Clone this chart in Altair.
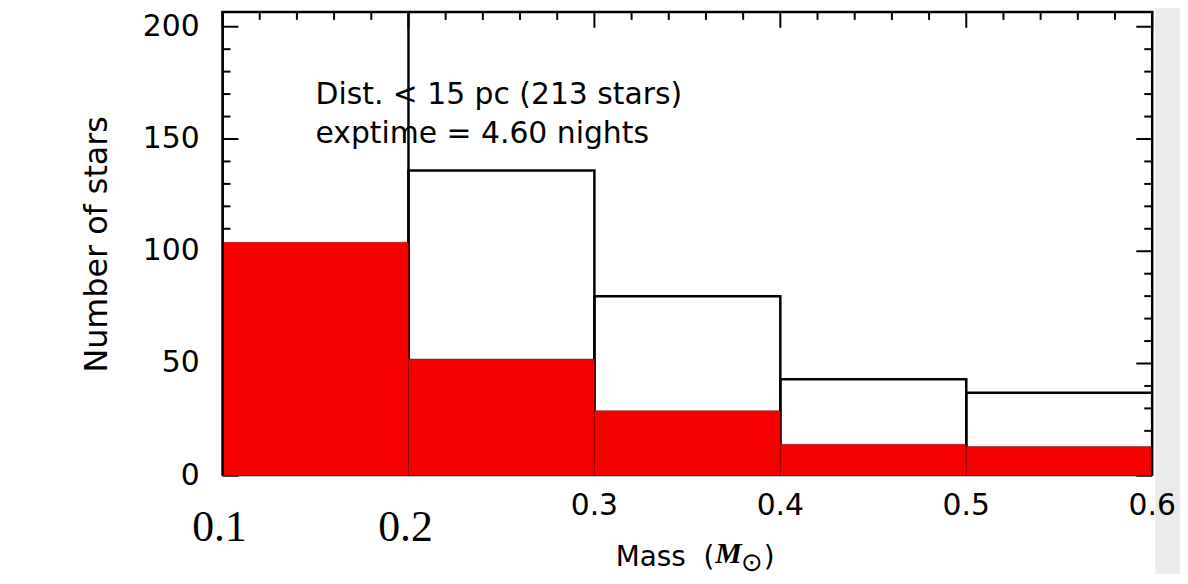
import altair as alt
import pandas as pd

# ---- data ----
bin_lo = [0.1, 0.2, 0.3, 0.4, 0.5]
bin_hi = [0.2, 0.3, 0.4, 0.5, 0.6]
all_stars = [250, 136, 80, 43, 37]      # first bin runs off the top of the plot
red_stars = [104, 52, 29, 14, 13]

y_major = [0, 50, 100, 150, 200]
y_labels = ["0", "50", "100", "150", "200"]
y_minor = [10, 20, 30, 40, 60, 70, 80, 90, 110, 120, 130, 140, 160, 170, 180, 190]
x_major = [0.1, 0.2, 0.3, 0.4, 0.5, 0.6]
x_minor = [0.12, 0.14, 0.16, 0.18, 0.22, 0.24, 0.26, 0.28, 0.32, 0.34, 0.36, 0.38,
           0.42, 0.44, 0.46, 0.48, 0.52, 0.54, 0.56, 0.58]
x_sans_vals = [0.3, 0.4, 0.5, 0.6]
x_sans_text = ["0.3", "0.4", "0.5", "0.6"]
x_serif_vals = [0.1, 0.2]
x_serif_text = ["0.1", "0.2"]

note_x = [0.15, 0.15]
note_y = [165.5, 148.3]
note_text = ["Dist. < 15 pc (213 stars)", "exptime = 4.60 nights"]

W, H = 936, 467
xs = alt.Scale(domain=[0.1, 0.6], nice=False, zero=False)
ys = alt.Scale(domain=[0, 206.6], nice=False)

hist = pd.DataFrame({"lo": bin_lo, "hi": bin_hi, "tot": all_stars, "red": red_stars})
one = pd.DataFrame({"a": [0]})

strip = alt.Chart(one).mark_rect(color="#ece9e9").encode(
    x=alt.value(939), x2=alt.value(970), y=alt.value(-10), y2=alt.value(566))

outline = alt.Chart(hist).mark_rect(
    fill="white", fillOpacity=0, stroke="black", strokeWidth=2.5, clip=True
).encode(
    x=alt.X("lo:Q", scale=xs, axis=None), x2="hi:Q",
    y=alt.Y("tot:Q", scale=ys, axis=None), y2=alt.datum(0),
)

red = alt.Chart(hist).mark_rect(
    fill="#f70000", stroke="#500000", strokeWidth=0.6, strokeOpacity=0.7
).encode(
    x=alt.X("lo:Q", scale=xs, axis=None), x2="hi:Q",
    y=alt.Y("red:Q", scale=ys, axis=None), y2=alt.datum(0),
)

ymaj = pd.DataFrame({"v": y_major, "t": y_labels})
ymin = pd.DataFrame({"v": y_minor})
xmaj = pd.DataFrame({"v": x_major})
xmin = pd.DataFrame({"v": x_minor})

def ytick(df, x0, x1):
    return alt.Chart(df).mark_rule(color="black", strokeWidth=2).encode(
        y=alt.Y("v:Q", scale=ys, axis=None), x=alt.value(x0), x2=alt.value(x1))

def xtick(df, y0, y1):
    return alt.Chart(df).mark_rule(color="black", strokeWidth=2).encode(
        x=alt.X("v:Q", scale=xs, axis=None), y=alt.value(y0), y2=alt.value(y1))

ticks = [
    ytick(ymaj, 0, 16), ytick(ymin, 0, 8),
    ytick(ymaj, W - 16, W), ytick(ymin, W - 8, W),
    xtick(xmaj, 0, 16), xtick(xmin, 0, 8),
]

frame = [
    alt.Chart(one).mark_rule(color="black", strokeWidth=2.5).encode(
        x=alt.value(0), y=alt.value(-1), y2=alt.value(H)),
    alt.Chart(one).mark_rule(color="black", strokeWidth=2.5).encode(
        x=alt.value(W), y=alt.value(-1), y2=alt.value(H)),
    alt.Chart(one).mark_rule(color="black", strokeWidth=2.5).encode(
        x=alt.value(-1), x2=alt.value(W + 1), y=alt.value(0)),
    alt.Chart(one).mark_rule(color="#333333", strokeWidth=1).encode(
        x=alt.value(0), x2=alt.value(W), y=alt.value(H)),
]

# axis labels
y_lab = alt.Chart(ymaj).mark_text(
    font="DejaVu Sans", fontSize=30, align="right", baseline="middle", color="black"
).encode(y=alt.Y("v:Q", scale=ys, axis=None), x=alt.value(-23), text="t:N")

x_lab = alt.Chart(pd.DataFrame({"v": x_sans_vals, "t": x_sans_text})).mark_text(
    font="DejaVu Sans", fontSize=30, align="center", baseline="alphabetic", color="black"
).encode(x=alt.X("v:Q", scale=xs, axis=None), y=alt.value(507), text="t:N")

serif_lab = alt.Chart(pd.DataFrame({"v": x_serif_vals, "t": x_serif_text})).mark_text(
    font="Liberation Serif", fontSize=44, align="center", baseline="alphabetic",
    color="black", dx=-3
).encode(x=alt.X("v:Q", scale=xs, axis=None), y=alt.value(533), text="t:N")

y_title = alt.Chart(one).mark_text(
    text="Number of stars", font="DejaVu Sans", fontSize=32, angle=270,
    align="center", baseline="middle", color="black"
).encode(x=alt.value(-126), y=alt.value(234))

notes = alt.Chart(pd.DataFrame({"x": note_x, "y": note_y, "t": note_text})).mark_text(
    font="DejaVu Sans", fontSize=30, align="left", baseline="alphabetic", color="black"
).encode(x=alt.X("x:Q", scale=xs, axis=None), y=alt.Y("y:Q", scale=ys, axis=None),
         text="t:N")

title_parts = [
    alt.Chart(one).mark_text(text="Mass\u00a0\u00a0(", font="DejaVu Sans", fontSize=28,
                             align="left", baseline="alphabetic", color="black"
                             ).encode(x=alt.value(396), y=alt.value(558)),
    alt.Chart(one).mark_text(text="M", font="Liberation Serif", fontSize=30,
                             fontStyle="italic", fontWeight="bold",
                             align="left", baseline="alphabetic", color="black"
                             ).encode(x=alt.value(496), y=alt.value(555)),
    alt.Chart(one).mark_text(text="\u2299", font="DejaVu Sans", fontSize=26,
                             align="center", baseline="alphabetic", color="black"
                             ).encode(x=alt.value(533), y=alt.value(563)),
    alt.Chart(one).mark_text(text=")", font="DejaVu Sans", fontSize=28,
                             align="left", baseline="alphabetic", color="black"
                             ).encode(x=alt.value(545), y=alt.value(558)),
]

chart = alt.layer(
    strip, *ticks, outline, red, *frame, y_lab, x_lab, serif_lab, y_title, notes,
    *title_parts
).properties(
    width=W, height=H,
    padding={"left": 216, "top": 2, "right": 28, "bottom": 99},
    autosize="none",
    background="white",
).configure_view(stroke=None)

chart.save("out.html", embed_options={"renderer": "svg", "actions": False})
